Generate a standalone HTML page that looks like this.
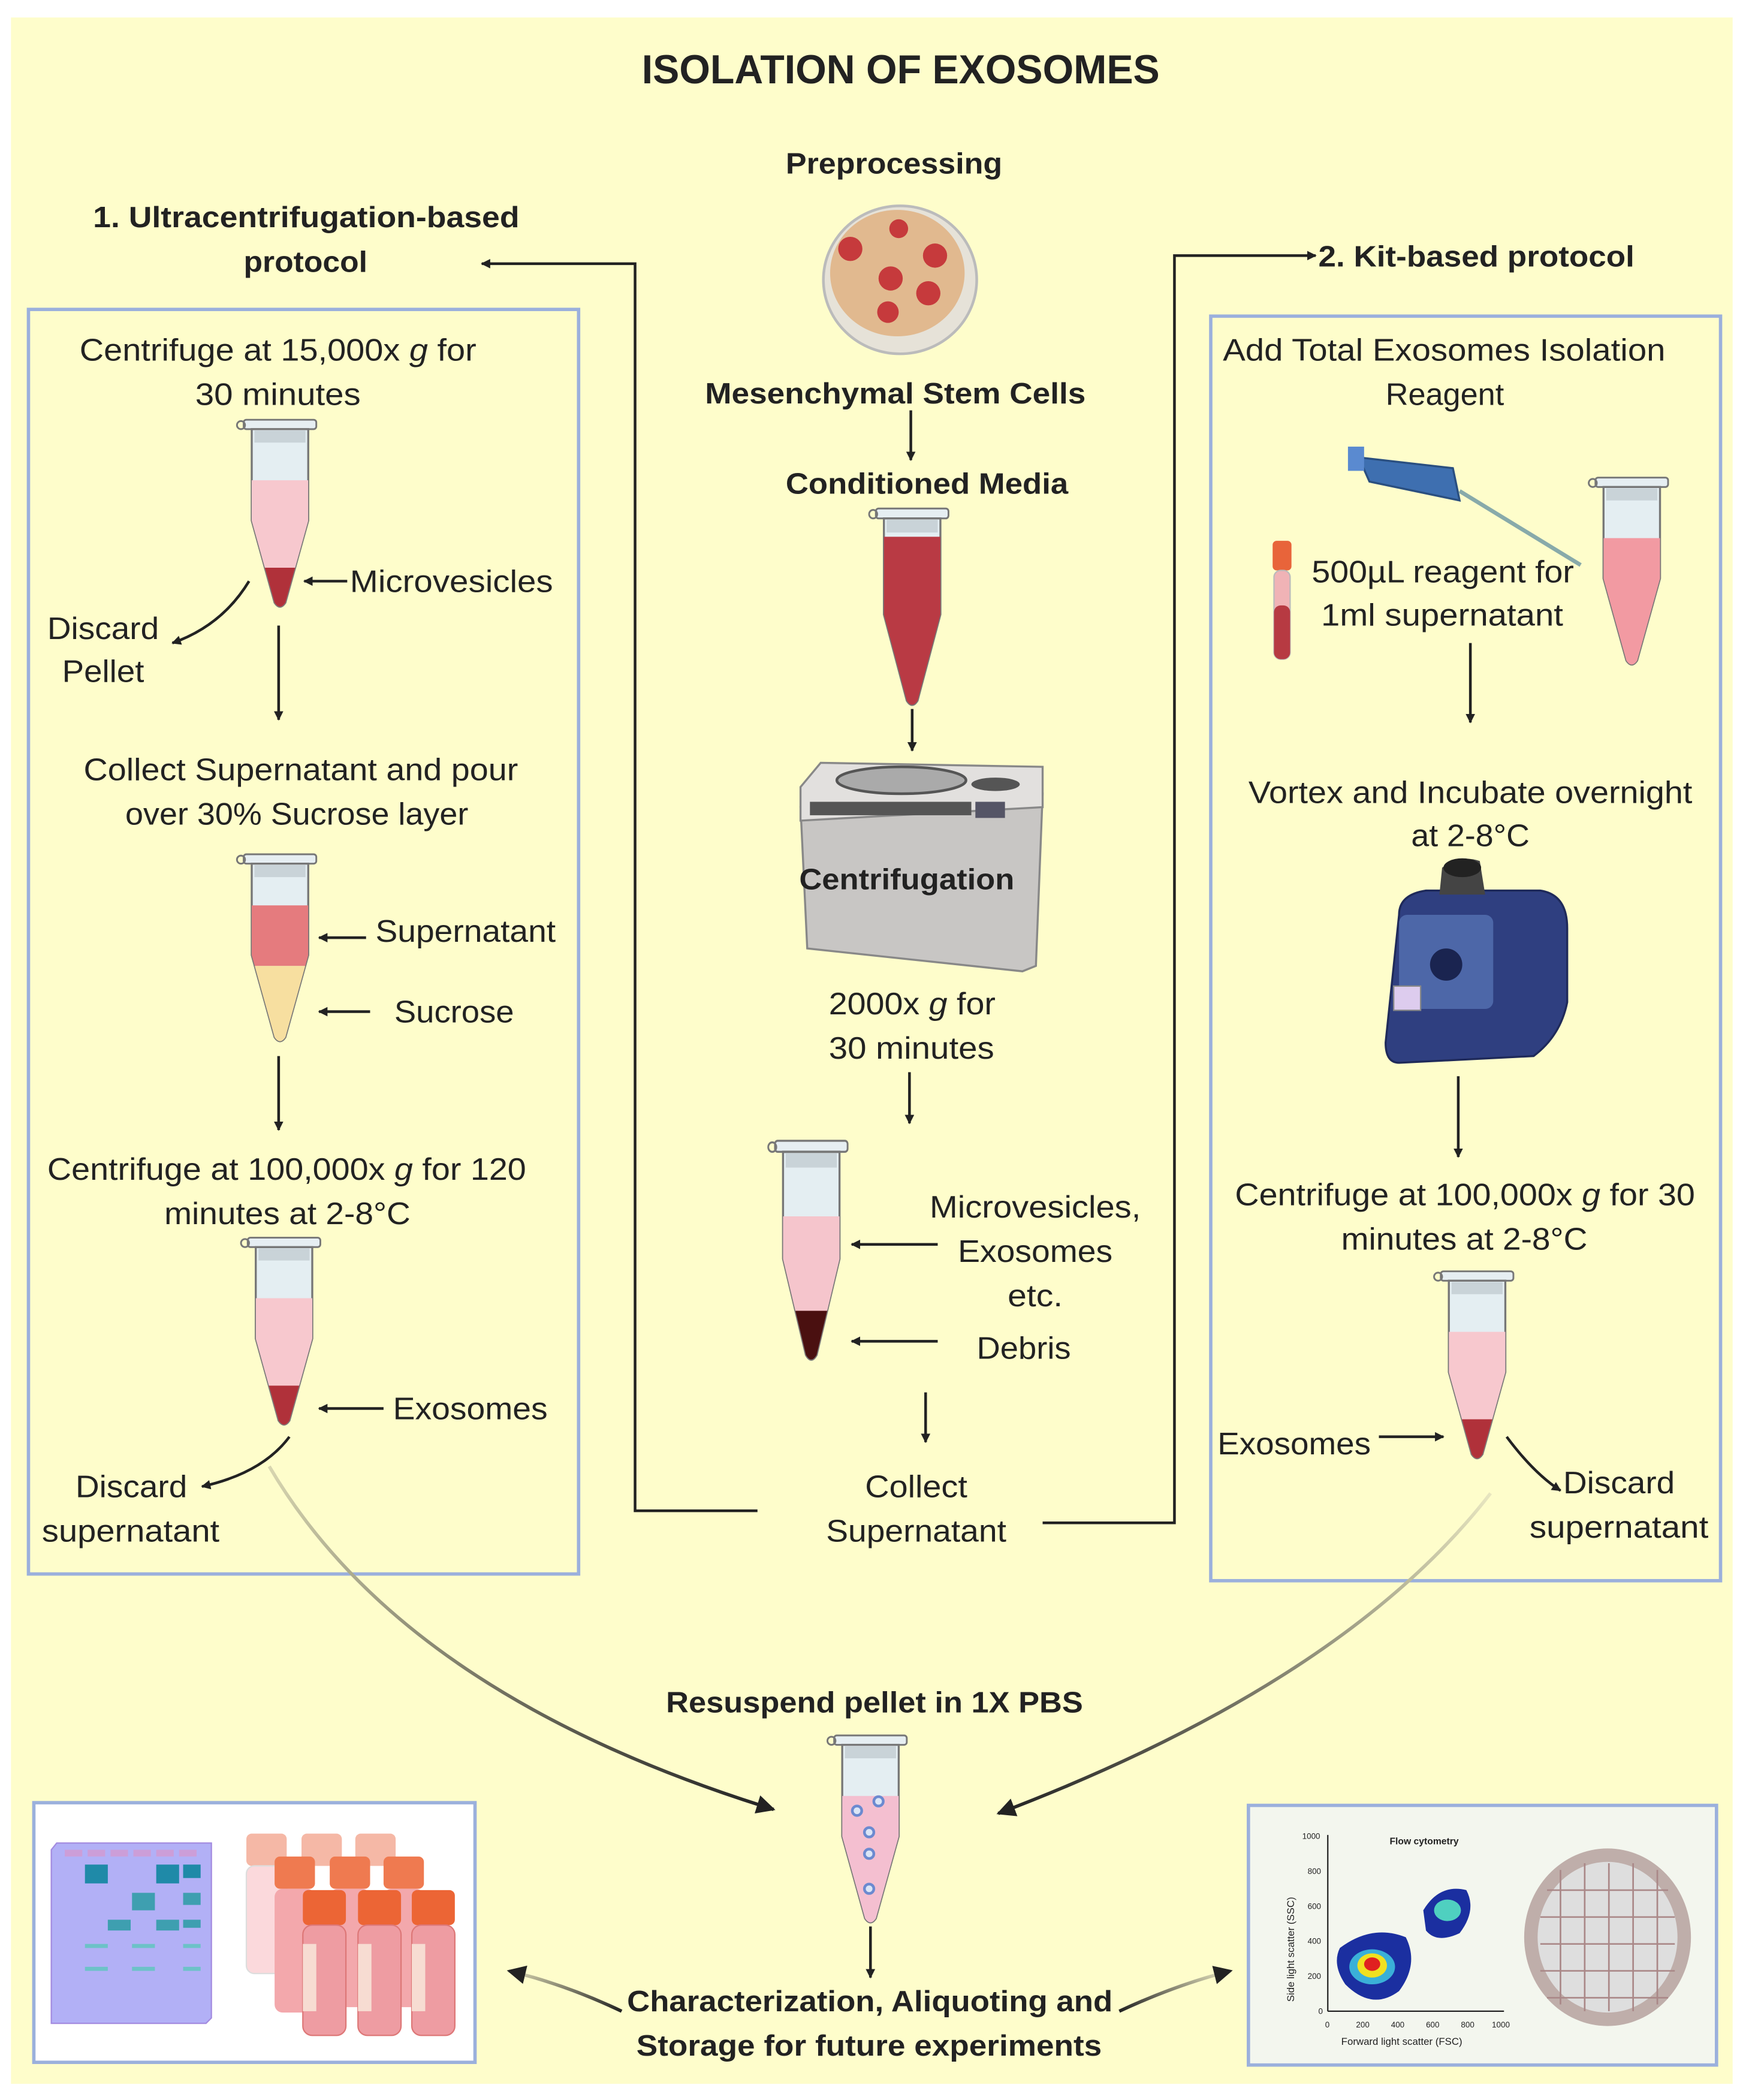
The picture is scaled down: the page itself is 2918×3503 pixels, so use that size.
<!DOCTYPE html>
<html><head><meta charset="utf-8"><style>
html,body{margin:0;padding:0;background:#fff;}
svg{display:block}
text{font-family:"Liberation Sans",sans-serif;fill:#222;}
.n{font-size:23px;}
.b{font-size:22px;font-weight:bold;}
</style></head><body>
<svg width="2918" height="3503" viewBox="0 0 1300 1561" xmlns="http://www.w3.org/2000/svg">
<defs>
<clipPath id="tc"><path d="M-21,12 L21,12 L21,75 L4,136 Q0,142 -4,136 L-21,75 Z"/></clipPath>
<marker id="ah" viewBox="0 0 10 10" refX="9" refY="5" markerWidth="7" markerHeight="7" orient="auto" markerUnits="userSpaceOnUse"><path d="M0,0 L10,5 L0,10 Z" fill="#222"/></marker>
<marker id="ah2" viewBox="0 0 10 10" refX="9" refY="5" markerWidth="14" markerHeight="14" orient="auto" markerUnits="userSpaceOnUse"><path d="M0,0 L10,5 L0,10 Z" fill="#222"/></marker>
<linearGradient id="gl" x1="0" y1="0" x2="1" y2="1"><stop offset="0" stop-color="#d8d6b0"/><stop offset="1" stop-color="#222"/></linearGradient>
<linearGradient id="gr" x1="1" y1="0" x2="0" y2="1"><stop offset="0" stop-color="#e8e6c0"/><stop offset="1" stop-color="#222"/></linearGradient>
<g id="tubeBase">
<rect x="-27" y="0" width="54" height="7" rx="2" fill="#e6eef2" stroke="#777" stroke-width="1.3"/>
<circle cx="-29" cy="4" r="3" fill="none" stroke="#777" stroke-width="1.3"/>
<path d="M-21,7 L21,7 L21,75 L4,136 Q0,142 -4,136 L-21,75 Z" fill="#e4eef2" stroke="#777" stroke-width="1.5"/>
<rect x="-19" y="8" width="38" height="9" fill="#c9d3d8"/>
</g>
</defs>
<rect width="1300" height="1561" fill="#fff"/>
<rect x="8" y="13" width="1280" height="1536" fill="#fefdcb"/>

<!-- titles -->
<text x="477" y="62" font-size="30" font-weight="bold" textLength="385" lengthAdjust="spacingAndGlyphs">ISOLATION OF EXOSOMES</text>
<text class="b" x="584" y="129" textLength="161" lengthAdjust="spacingAndGlyphs">Preprocessing</text>
<text class="b" x="69" y="169" textLength="317" lengthAdjust="spacingAndGlyphs">1. Ultracentrifugation-based</text>
<text class="b" x="181" y="202" textLength="92" lengthAdjust="spacingAndGlyphs">protocol</text>
<text class="b" x="980" y="198" textLength="235" lengthAdjust="spacingAndGlyphs">2. Kit-based protocol</text>

<!-- petri dish -->
<ellipse cx="669" cy="208" rx="57" ry="55" fill="#e6e2d8" stroke="#bbb" stroke-width="2"/>
<ellipse cx="667" cy="203" rx="50" ry="47" fill="#e1b98f"/>
<g fill="#c63a3c">
<circle cx="632" cy="185" r="9"/><circle cx="662" cy="207" r="9"/><circle cx="695" cy="190" r="9"/><circle cx="668" cy="170" r="7"/><circle cx="690" cy="218" r="9"/><circle cx="660" cy="232" r="8"/>
</g>
<text class="b" x="524" y="300" textLength="283" lengthAdjust="spacingAndGlyphs">Mesenchymal Stem Cells</text>
<line x1="677" y1="305" x2="677" y2="342" stroke="#222" stroke-width="2" marker-end="url(#ah)"/>
<text class="b" x="584" y="367" textLength="210" lengthAdjust="spacingAndGlyphs">Conditioned Media</text>

<!-- conditioned media tube -->
<g transform="translate(678,378) scale(1,1.05)">
<use href="#tubeBase"/>
<rect x="-25" y="20" width="50" height="130" fill="#b93a44" clip-path="url(#tc)"/>
</g>
<line x1="678" y1="527" x2="678" y2="558" stroke="#222" stroke-width="2" marker-end="url(#ah)"/>

<!-- centrifuge -->
<path d="M595,600 L775,590 L770,718 L760,722 L600,705 Z" fill="#c8c6c4" stroke="#888" stroke-width="1.5"/>
<path d="M595,585 L610,567 L775,570 L775,600 L595,610 Z" fill="#e2e0de" stroke="#888" stroke-width="1.5"/>
<ellipse cx="670" cy="580" rx="48" ry="10" fill="#aaa" stroke="#555" stroke-width="2"/>
<ellipse cx="740" cy="583" rx="18" ry="5" fill="#555"/>
<rect x="602" y="596" width="120" height="10" fill="#555"/>
<rect x="725" y="596" width="22" height="12" fill="#556"/>
<text class="b" x="594" y="661" textLength="160" lengthAdjust="spacingAndGlyphs">Centrifugation</text>
<text class="n" x="616" y="754" textLength="124" lengthAdjust="spacingAndGlyphs">2000x <tspan font-style="italic">g</tspan> for</text>
<text class="n" x="616" y="787" textLength="123" lengthAdjust="spacingAndGlyphs">30 minutes</text>
<line x1="676" y1="797" x2="676" y2="835" stroke="#222" stroke-width="2" marker-end="url(#ah)"/>

<!-- debris tube -->
<g transform="translate(603,848) scale(1,1.17)">
<use href="#tubeBase"/>
<rect x="-25" y="48" width="50" height="100" fill="#f5c5cc" clip-path="url(#tc)"/>
<rect x="-25" y="108" width="50" height="40" fill="#4a1010" clip-path="url(#tc)"/>
</g>
<text class="n" x="691" y="905" textLength="157" lengthAdjust="spacingAndGlyphs">Microvesicles,</text>
<text class="n" x="712" y="938" textLength="115" lengthAdjust="spacingAndGlyphs">Exosomes</text>
<text class="n" x="749" y="971" textLength="41" lengthAdjust="spacingAndGlyphs">etc.</text>
<text class="n" x="726" y="1010" textLength="70" lengthAdjust="spacingAndGlyphs">Debris</text>
<line x1="697" y1="925" x2="633" y2="925" stroke="#222" stroke-width="2" marker-end="url(#ah)"/>
<line x1="697" y1="997" x2="633" y2="997" stroke="#222" stroke-width="2" marker-end="url(#ah)"/>
<line x1="688" y1="1035" x2="688" y2="1072" stroke="#222" stroke-width="2" marker-end="url(#ah)"/>
<text class="n" x="643" y="1113" textLength="76" lengthAdjust="spacingAndGlyphs">Collect</text>
<text class="n" x="614" y="1146" textLength="134" lengthAdjust="spacingAndGlyphs">Supernatant</text>

<!-- connectors -->
<polyline points="563,1123 472,1123 472,196 358,196" fill="none" stroke="#222" stroke-width="2" marker-end="url(#ah)"/>
<polyline points="775,1132 873,1132 873,190 978,190" fill="none" stroke="#222" stroke-width="2" marker-end="url(#ah)"/>

<!-- left box -->
<rect x="21" y="230" width="409" height="940" fill="none" stroke="#9bb0dc" stroke-width="2.5"/>
<text class="n" x="59" y="268" textLength="295" lengthAdjust="spacingAndGlyphs">Centrifuge at 15,000x <tspan font-style="italic">g</tspan> for</text>
<text class="n" x="145" y="301" textLength="123" lengthAdjust="spacingAndGlyphs">30 minutes</text>
<g transform="translate(208,312)">
<use href="#tubeBase"/>
<rect x="-25" y="45" width="50" height="100" fill="#f7c8ce" clip-path="url(#tc)"/>
<rect x="-25" y="110" width="50" height="40" fill="#b0313a" clip-path="url(#tc)"/>
</g>
<line x1="258" y1="432" x2="226" y2="432" stroke="#222" stroke-width="2" marker-end="url(#ah)"/>
<text class="n" x="260" y="440" textLength="151" lengthAdjust="spacingAndGlyphs">Microvesicles</text>
<path d="M185,432 Q165,465 128,478" fill="none" stroke="#222" stroke-width="2" marker-end="url(#ah)"/>
<text class="n" x="35" y="475" textLength="83" lengthAdjust="spacingAndGlyphs">Discard</text>
<text class="n" x="46" y="507" textLength="61" lengthAdjust="spacingAndGlyphs">Pellet</text>
<line x1="207" y1="465" x2="207" y2="535" stroke="#222" stroke-width="2" marker-end="url(#ah)"/>
<text class="n" x="62" y="580" textLength="323" lengthAdjust="spacingAndGlyphs">Collect Supernatant and pour</text>
<text class="n" x="93" y="613" textLength="255" lengthAdjust="spacingAndGlyphs">over 30% Sucrose layer</text>
<g transform="translate(208,635)">
<use href="#tubeBase"/>
<rect x="-25" y="38" width="50" height="45" fill="#e57b7e" clip-path="url(#tc)"/>
<rect x="-25" y="83" width="50" height="70" fill="#f7dfa0" clip-path="url(#tc)"/>
</g>
<line x1="272" y1="697" x2="237" y2="697" stroke="#222" stroke-width="2" marker-end="url(#ah)"/>
<text class="n" x="279" y="700" textLength="134" lengthAdjust="spacingAndGlyphs">Supernatant</text>
<line x1="275" y1="752" x2="237" y2="752" stroke="#222" stroke-width="2" marker-end="url(#ah)"/>
<text class="n" x="293" y="760" textLength="89" lengthAdjust="spacingAndGlyphs">Sucrose</text>
<line x1="207" y1="785" x2="207" y2="840" stroke="#222" stroke-width="2" marker-end="url(#ah)"/>
<text class="n" x="35" y="877" textLength="356" lengthAdjust="spacingAndGlyphs">Centrifuge at 100,000x <tspan font-style="italic">g</tspan> for 120</text>
<text class="n" x="122" y="910" textLength="183" lengthAdjust="spacingAndGlyphs">minutes at 2-8°C</text>
<g transform="translate(211,920)">
<use href="#tubeBase"/>
<rect x="-25" y="45" width="50" height="100" fill="#f7c8ce" clip-path="url(#tc)"/>
<rect x="-25" y="110" width="50" height="40" fill="#b0313a" clip-path="url(#tc)"/>
</g>
<line x1="285" y1="1047" x2="237" y2="1047" stroke="#222" stroke-width="2" marker-end="url(#ah)"/>
<text class="n" x="292" y="1055" textLength="115" lengthAdjust="spacingAndGlyphs">Exosomes</text>
<path d="M215,1068 Q195,1095 150,1105" fill="none" stroke="#222" stroke-width="2" marker-end="url(#ah)"/>
<text class="n" x="56" y="1113" textLength="83" lengthAdjust="spacingAndGlyphs">Discard</text>
<text class="n" x="31" y="1146" textLength="132" lengthAdjust="spacingAndGlyphs">supernatant</text>

<!-- right box -->
<rect x="900" y="235" width="379" height="940" fill="none" stroke="#9bb0dc" stroke-width="2.5"/>
<text class="n" x="909" y="268" textLength="329" lengthAdjust="spacingAndGlyphs">Add Total Exosomes Isolation</text>
<text class="n" x="1030" y="301" textLength="88" lengthAdjust="spacingAndGlyphs">Reagent</text>
<!-- pipette -->
<g>
<path d="M1010,340 L1080,348 L1085,372 L1018,358 Z" fill="#3e6fb0" stroke="#2a4f80" stroke-width="1.5"/>
<rect x="1002" y="332" width="12" height="18" fill="#5a8ad0"/>
<line x1="1085" y1="365" x2="1175" y2="420" stroke="#8aa" stroke-width="3"/>
</g>
<g transform="translate(1213,355)">
<use href="#tubeBase"/>
<rect x="-25" y="45" width="50" height="100" fill="#f29aa2" clip-path="url(#tc)"/>
</g>
<rect x="946" y="402" width="14" height="22" rx="3" fill="#e8643a"/>
<rect x="947" y="424" width="12" height="66" rx="5" fill="#f0b3b6" stroke="#bbb"/>
<rect x="947" y="450" width="12" height="40" rx="5" fill="#b73a42"/>
<text class="n" x="975" y="433" textLength="195" lengthAdjust="spacingAndGlyphs">500µL reagent for</text>
<text class="n" x="982" y="465" textLength="180" lengthAdjust="spacingAndGlyphs">1ml supernatant</text>
<line x1="1093" y1="478" x2="1093" y2="537" stroke="#222" stroke-width="2" marker-end="url(#ah)"/>
<text class="n" x="928" y="597" textLength="330" lengthAdjust="spacingAndGlyphs">Vortex and Incubate overnight</text>
<text class="n" x="1049" y="629" textLength="88" lengthAdjust="spacingAndGlyphs">at 2-8°C</text>
<!-- vortex -->
<path d="M1040,680 Q1040,665 1060,662 L1145,662 Q1165,665 1165,690 L1165,745 Q1160,770 1140,785 L1040,790 Q1030,790 1030,775 Z" fill="#2f3f80" stroke="#1f2a5a" stroke-width="1.5"/>
<path d="M1070,665 L1072,645 Q1085,635 1100,640 L1104,665 Z" fill="#444"/>
<ellipse cx="1087" cy="645" rx="14" ry="7" fill="#222"/>
<rect x="1040" y="680" width="70" height="70" rx="6" fill="#4d67a8"/>
<circle cx="1075" cy="717" r="12" fill="#1a2450"/>
<rect x="1036" y="733" width="20" height="18" fill="#dce" stroke="#888"/>
<line x1="1084" y1="800" x2="1084" y2="860" stroke="#222" stroke-width="2" marker-end="url(#ah)"/>
<text class="n" x="918" y="896" textLength="342" lengthAdjust="spacingAndGlyphs">Centrifuge at 100,000x <tspan font-style="italic">g</tspan> for 30</text>
<text class="n" x="997" y="929" textLength="183" lengthAdjust="spacingAndGlyphs">minutes at 2-8°C</text>
<g transform="translate(1098,945)">
<use href="#tubeBase"/>
<rect x="-25" y="45" width="50" height="100" fill="#f7c8ce" clip-path="url(#tc)"/>
<rect x="-25" y="110" width="50" height="40" fill="#b0313a" clip-path="url(#tc)"/>
</g>
<text class="n" x="905" y="1081" textLength="114" lengthAdjust="spacingAndGlyphs">Exosomes</text>
<line x1="1025" y1="1068" x2="1073" y2="1068" stroke="#222" stroke-width="2" marker-end="url(#ah)"/>
<path d="M1120,1068 Q1140,1095 1160,1108" fill="none" stroke="#222" stroke-width="2" marker-end="url(#ah)"/>
<text class="n" x="1162" y="1110" textLength="83" lengthAdjust="spacingAndGlyphs">Discard</text>
<text class="n" x="1137" y="1143" textLength="133" lengthAdjust="spacingAndGlyphs">supernatant</text>

<!-- curves to bottom -->
<path d="M200,1090 Q300,1260 575,1345" fill="none" stroke="url(#gl)" stroke-width="2.5" marker-end="url(#ah2)"/>
<path d="M1108,1110 Q1000,1250 742,1348" fill="none" stroke="url(#gr)" stroke-width="2.5" marker-end="url(#ah2)"/>
<text class="b" x="495" y="1273" textLength="310" lengthAdjust="spacingAndGlyphs">Resuspend pellet in 1X PBS</text>
<g transform="translate(647,1290) scale(1,1.0)">
<use href="#tubeBase"/>
<rect x="-25" y="45" width="50" height="100" fill="#f4bfd0" clip-path="url(#tc)"/>
<g fill="#dbe6f6" stroke="#6c8ad0" stroke-width="2"><circle cx="-10" cy="56" r="3.5"/><circle cx="6" cy="49" r="3.5"/><circle cx="-1" cy="72" r="3.5"/><circle cx="-1" cy="88" r="3.5"/><circle cx="-1" cy="114" r="3.5"/></g>
</g>
<line x1="647" y1="1432" x2="647" y2="1470" stroke="#222" stroke-width="2" marker-end="url(#ah)"/>
<text class="b" x="466" y="1495" textLength="361" lengthAdjust="spacingAndGlyphs">Characterization, Aliquoting and</text>
<text class="b" x="473" y="1528" textLength="346" lengthAdjust="spacingAndGlyphs">Storage for future experiments</text>
<path d="M462,1495 Q420,1475 378,1465" fill="none" stroke="url(#gl)" stroke-width="2.5" marker-end="url(#ah2)"/>
<path d="M832,1495 Q875,1475 915,1465" fill="none" stroke="url(#gr)" stroke-width="2.5" marker-end="url(#ah2)"/>

<!-- bottom-left image box -->
<rect x="25" y="1340" width="328" height="193" fill="#fff" stroke="#9bb0dc" stroke-width="2.5"/>
<path d="M38,1375 L42,1370 L157,1370 L157,1500 L153,1504 L38,1504 Z" fill="#b2b0f6" stroke="#a38be0"/>
<g fill="#cc9ed8"><rect x="48" y="1375" width="13" height="5"/><rect x="65" y="1375" width="13" height="5"/><rect x="82" y="1375" width="13" height="5"/><rect x="99" y="1375" width="13" height="5"/><rect x="116" y="1375" width="13" height="5"/><rect x="133" y="1375" width="13" height="5"/></g>
<g fill="#1f8aa8"><rect x="63" y="1386" width="17" height="14"/><rect x="116" y="1386" width="17" height="14"/><rect x="136" y="1386" width="13" height="10"/></g>
<g fill="#3e9fb0"><rect x="98" y="1407" width="17" height="13"/><rect x="136" y="1407" width="13" height="9"/><rect x="80" y="1427" width="17" height="8"/><rect x="116" y="1427" width="17" height="8"/><rect x="136" y="1427" width="13" height="6"/></g>
<g fill="#6cc2c8"><rect x="63" y="1445" width="17" height="3"/><rect x="98" y="1445" width="17" height="3"/><rect x="136" y="1445" width="13" height="3"/><rect x="63" y="1462" width="17" height="3"/><rect x="98" y="1462" width="17" height="3"/><rect x="136" y="1462" width="13" height="3"/></g>
<g>
<g fill="#f5b8a6"><rect x="183" y="1363" width="30" height="24" rx="4"/><rect x="224" y="1363" width="30" height="24" rx="4"/><rect x="264" y="1363" width="30" height="24" rx="4"/></g>
<rect x="183" y="1387" width="30" height="80" rx="6" fill="#fbd9dc" stroke="#ddd"/>
<g fill="#ef7a50"><rect x="204" y="1380" width="30" height="24" rx="4"/><rect x="245" y="1380" width="30" height="24" rx="4"/><rect x="285" y="1380" width="30" height="24" rx="4"/></g>
<g fill="#f3a8ac"><rect x="204" y="1404" width="30" height="92" rx="6"/><rect x="245" y="1404" width="30" height="88" rx="6"/><rect x="285" y="1404" width="30" height="88" rx="6"/></g>
<g fill="#ec6535"><rect x="225" y="1405" width="32" height="26" rx="4"/><rect x="266" y="1405" width="32" height="26" rx="4"/><rect x="306" y="1405" width="32" height="26" rx="4"/></g>
<g fill="#ee9ca2" stroke="#d77"><rect x="225" y="1431" width="32" height="82" rx="7"/><rect x="266" y="1431" width="32" height="82" rx="7"/><rect x="306" y="1431" width="32" height="82" rx="7"/></g>
<g fill="#f7dcd2"><rect x="225" y="1445" width="10" height="50"/><rect x="266" y="1445" width="10" height="50"/><rect x="306" y="1445" width="10" height="50"/></g>
</g>

<!-- bottom-right image box -->
<rect x="928" y="1342" width="348" height="193" fill="#f3f6ee" stroke="#9bb0dc" stroke-width="2.5"/>
<line x1="987" y1="1364" x2="987" y2="1495" stroke="#222" stroke-width="1"/>
<line x1="987" y1="1495" x2="1118" y2="1495" stroke="#222" stroke-width="1"/>
<g font-size="6" fill="#333"><text x="968" y="1367">1000</text><text x="972" y="1393">800</text><text x="972" y="1419">600</text><text x="972" y="1445">400</text><text x="972" y="1471">200</text><text x="980" y="1497">0</text>
<text x="985" y="1507">0</text><text x="1008" y="1507">200</text><text x="1034" y="1507">400</text><text x="1060" y="1507">600</text><text x="1086" y="1507">800</text><text x="1109" y="1507">1000</text></g>
<text x="1033" y="1371" font-size="7" font-weight="bold">Flow cytometry</text>
<text x="997" y="1520" font-size="7.5">Forward light scatter (FSC)</text>
<text transform="translate(962,1488) rotate(-90)" font-size="7.5">Side light scatter (SSC)</text>
<path d="M996,1448 Q1020,1430 1045,1440 Q1055,1460 1040,1480 Q1020,1495 1000,1475 Q990,1460 996,1448 Z" fill="#1b2fa0"/>
<ellipse cx="1020" cy="1462" rx="17" ry="13" fill="#3ab0d8"/>
<ellipse cx="1020" cy="1461" rx="11" ry="9" fill="#f0e020"/>
<ellipse cx="1020" cy="1460" rx="6" ry="5" fill="#e02020"/>
<path d="M1058,1420 Q1070,1400 1090,1405 Q1098,1420 1085,1437 Q1068,1445 1060,1435 Z" fill="#1b2fa0"/>
<ellipse cx="1076" cy="1420" rx="10" ry="8" fill="#4fd0c0"/>
<ellipse cx="1195" cy="1440" rx="62" ry="66" fill="#bfaeaa"/>
<ellipse cx="1195" cy="1440" rx="52" ry="56" fill="#dedede"/>
<g stroke="#a88" stroke-width="1.2"><line x1="1150" y1="1405" x2="1240" y2="1405"/><line x1="1145" y1="1425" x2="1245" y2="1425"/><line x1="1145" y1="1445" x2="1245" y2="1445"/><line x1="1145" y1="1465" x2="1245" y2="1465"/><line x1="1150" y1="1485" x2="1240" y2="1485"/><line x1="1160" y1="1390" x2="1160" y2="1490"/><line x1="1178" y1="1385" x2="1178" y2="1495"/><line x1="1196" y1="1385" x2="1196" y2="1495"/><line x1="1214" y1="1385" x2="1214" y2="1495"/><line x1="1232" y1="1390" x2="1232" y2="1490"/></g>
</svg>
</body></html>
